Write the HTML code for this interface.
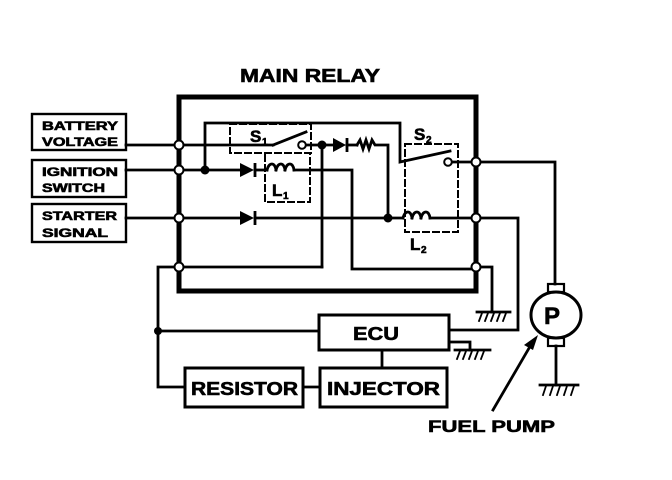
<!DOCTYPE html>
<html><head><meta charset="utf-8"><style>
html,body{margin:0;padding:0;background:#fff;}
svg{display:block;}
text{font-family:"Liberation Sans",Arial,sans-serif;font-weight:bold;fill:#000;}
</style></head><body>
<svg width="672" height="480" viewBox="0 0 672 480" xmlns="http://www.w3.org/2000/svg">
<g fill="none" stroke="#000" stroke-width="2.8" stroke-linecap="square">
<rect x="179" y="97" width="297" height="194" stroke-width="5"/>
<rect x="32" y="114" width="94" height="36" stroke-width="2.4"/>
<rect x="32" y="160" width="94" height="37" stroke-width="2.4"/>
<rect x="32" y="204" width="94" height="38" stroke-width="2.4"/>
<line x1="126" y1="145" x2="179" y2="145"/>
<line x1="126" y1="170" x2="179" y2="170"/>
<line x1="126" y1="218" x2="179" y2="218"/>
<line x1="179" y1="145" x2="273" y2="145"/>
<line x1="273" y1="145" x2="306" y2="132"/>
<line x1="306" y1="145" x2="333" y2="145"/>
<line x1="347" y1="145" x2="357" y2="145"/>
<polyline points="357,145 360,140 363,149 366,140 369,149 372,140 375,145 388,145 388,218"/>
<line x1="322" y1="145" x2="322" y2="267"/>
<line x1="322" y1="267" x2="179" y2="267"/>
<polyline points="205,170 205,123 400,123 400,162 450,151"/>
<line x1="179" y1="170" x2="240" y2="170"/>
<line x1="257" y1="170" x2="267" y2="170"/>
<path d="M267,170 c2,-8 8,-8 9,0 M276,170 c2,-8 8,-8 9,0 M285,170 c2,-8 8,-8 9,0"/>
<polyline points="294,170 303,170 352,170 352,269 476,269"/>
<line x1="179" y1="218" x2="240" y2="218"/>
<line x1="257" y1="218" x2="403" y2="218"/>
<path d="M403,218 c2,-8 8,-8 9,0 M412,218 c2,-8 8,-8 9,0 M421,218 c2,-8 8,-8 9,0"/>
<polyline points="430,218 437,218 518,218 518,330 449,330"/>
<polyline points="450,162 555,162 555,284"/>
<polyline points="476,267 492,267 492,312"/>
<line x1="477" y1="312" x2="510" y2="312"/>
<path d="M482,313 l-3,8 M488,313 l-3,8 M494,313 l-3,8 M500,313 l-3,8 M506,313 l-3,8" stroke-width="1.8"/>
<polyline points="449,342 470,342 470,350"/>
<line x1="455" y1="350" x2="490" y2="350"/>
<path d="M460,351 l-3,8 M466,351 l-3,8 M472,351 l-3,8 M478,351 l-3,8 M484,351 l-3,8" stroke-width="1.8"/>
<polyline points="179,267 158,267 158,387 185,387"/>
<line x1="158" y1="331" x2="319" y2="331"/>
<line x1="303" y1="387" x2="320" y2="387"/>
<line x1="382" y1="350" x2="382" y2="368"/>
<rect x="319" y="315" width="130" height="35" stroke-width="3"/>
<rect x="320" y="368" width="127" height="39" stroke-width="3"/>
<rect x="185" y="368" width="118" height="39" stroke-width="3"/>
<ellipse cx="556" cy="315" rx="25" ry="23" stroke-width="3"/>
<rect x="548" y="284" width="16" height="8" stroke-width="2.2"/>
<rect x="548" y="338" width="16" height="8" stroke-width="2.2"/>
<line x1="556" y1="346" x2="556" y2="385"/>
<line x1="540" y1="385" x2="578" y2="385"/>
<path d="M546,386 l-3,9 M553,386 l-3,9 M560,386 l-3,9 M567,386 l-3,9 M574,386 l-3,9" stroke-width="1.8"/>
<line x1="493" y1="410" x2="532" y2="343"/>
<g stroke-dasharray="6,4" stroke-width="2">
<rect x="230" y="124" width="81" height="29"/>
<rect x="265" y="153" width="45" height="49"/>
<rect x="405" y="144" width="53" height="88"/>
</g>
</g>
<polygon points="538,335 524,345 533,350" fill="#000"/>
<polygon points="240,163 240,177 254,170" fill="#000"/><line x1="255" y1="163" x2="255" y2="177" stroke="#000" stroke-width="2.8"/>
<polygon points="240,211 240,225 254,218" fill="#000"/><line x1="255" y1="211" x2="255" y2="225" stroke="#000" stroke-width="2.8"/>
<polygon points="333,138 333,152 346,145" fill="#000"/><line x1="347" y1="138" x2="347" y2="152" stroke="#000" stroke-width="2.8"/>
<circle cx="205" cy="170" r="4.5" fill="#000"/>
<circle cx="322" cy="145" r="4.5" fill="#000"/>
<circle cx="388" cy="218" r="4.5" fill="#000"/>
<circle cx="158" cy="331" r="4" fill="#000"/>
<g fill="#fff" stroke="#000" stroke-width="2">
<circle cx="179" cy="145" r="4.5"/><circle cx="179" cy="170" r="4.5"/><circle cx="179" cy="218" r="4.5"/><circle cx="179" cy="267" r="4.5"/>
<circle cx="476" cy="162" r="4.5"/><circle cx="476" cy="218" r="4.5"/><circle cx="476" cy="267" r="4.5"/>
<circle cx="302" cy="145" r="3.8"/><circle cx="448" cy="162" r="3.8"/>
</g>
<g stroke="#000" stroke-width="0.6">
<text x="240" y="82" font-size="18" textLength="140" lengthAdjust="spacingAndGlyphs">MAIN RELAY</text>
<text x="42" y="130" font-size="12" textLength="76" lengthAdjust="spacingAndGlyphs">BATTERY</text>
<text x="42" y="146" font-size="12" textLength="76" lengthAdjust="spacingAndGlyphs">VOLTAGE</text>
<text x="42" y="176" font-size="12" textLength="76" lengthAdjust="spacingAndGlyphs">IGNITION</text>
<text x="42" y="192" font-size="12" textLength="63" lengthAdjust="spacingAndGlyphs">SWITCH</text>
<text x="42" y="220" font-size="12" textLength="75" lengthAdjust="spacingAndGlyphs">STARTER</text>
<text x="42" y="237" font-size="12" textLength="66" lengthAdjust="spacingAndGlyphs">SIGNAL</text>
<text x="250" y="142" font-size="17">S</text><text x="262" y="145" font-size="10">1</text>
<text x="272" y="196" font-size="17">L</text><text x="283" y="199" font-size="10">1</text>
<text x="414" y="140" font-size="17">S</text><text x="426" y="143" font-size="10">2</text>
<text x="410" y="250" font-size="17">L</text><text x="421" y="253" font-size="10">2</text>
<text x="353" y="340" font-size="18" textLength="46" lengthAdjust="spacingAndGlyphs">ECU</text>
<text x="191" y="395" font-size="18" textLength="107" lengthAdjust="spacingAndGlyphs">RESISTOR</text>
<text x="327" y="395" font-size="18" textLength="113" lengthAdjust="spacingAndGlyphs">INJECTOR</text>
<text x="544" y="324" font-size="24">P</text>
<text x="428" y="432" font-size="17" textLength="127" lengthAdjust="spacingAndGlyphs">FUEL PUMP</text>
</g>
</svg>
</body></html>
